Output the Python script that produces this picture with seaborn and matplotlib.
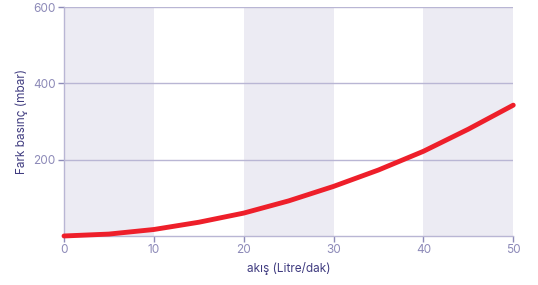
import seaborn as sns
import matplotlib.pyplot as plt
import pandas as pd

# flow (Litre/dak) vs differential pressure (mbar)
flow = [0, 5, 10, 15, 20, 25, 30, 35, 40, 45, 50]
pressure = [0, 5, 17, 36, 60, 92, 130, 173, 222, 280, 343]

band_color = "#ecebf3"
grid_color = "#b9b6d4"
tick_color = "#8d8ab8"
label_color = "#403c80"

sns.set_style("white")
plt.rcParams['font.family'] = ['Inter', 'DejaVu Sans']

df = pd.DataFrame({"flow": flow, "pressure": pressure})

fig = plt.figure(figsize=(5.38, 2.85), dpi=100)
ax = fig.add_axes([0.119, 0.172, 0.835, 0.803])

for start in (0, 20, 40):
    ax.axvspan(start, start + 10, color=band_color, lw=0, zorder=0)

for yv in (200, 400, 600):
    ax.axhline(yv, color=grid_color, lw=1, zorder=1)

sns.lineplot(data=df, x="flow", y="pressure", color="#ee1f2a", lw=3.5,
             solid_capstyle="round", ax=ax, zorder=3, clip_on=False)

ax.set_xlim(0, 50)
ax.set_ylim(0, 600)
ax.set_xticks([0, 10, 20, 30, 40, 50])
ax.set_yticks([200, 400, 600])
ax.set_xlabel("akış (Litre/dak)", color=label_color, fontsize=8.5, labelpad=4)
ax.set_ylabel("Fark basınç (mbar)", color=label_color, fontsize=8.5, labelpad=4)
ax.tick_params(axis="both", colors=tick_color, labelsize=8.5, length=4, width=1,
               direction="out", pad=2, left=True, bottom=True)
ax.tick_params(axis="both", labelcolor=tick_color)

for side in ("top", "right"):
    ax.spines[side].set_visible(False)
for side in ("left", "bottom"):
    ax.spines[side].set_color(grid_color)
    ax.spines[side].set_linewidth(1)

plt.savefig("out.png", dpi=100)
